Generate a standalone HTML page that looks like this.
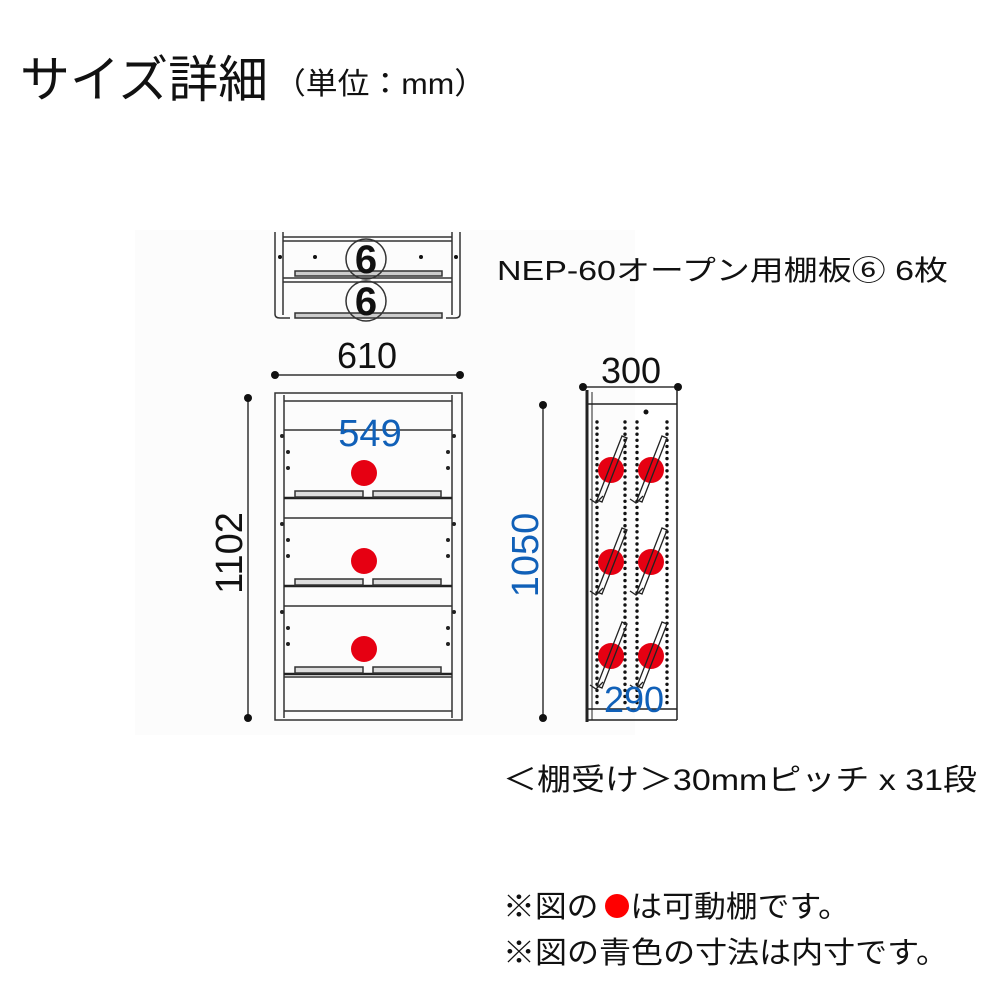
<!DOCTYPE html>
<html><head><meta charset="utf-8"><style>
html,body{margin:0;padding:0;background:#fff;}
svg{display:block;}
text{font-family:"Liberation Sans","Noto Sans CJK JP",sans-serif;}
</style></head><body>
<svg id="s" width="1000" height="1000" viewBox="0 0 1000 1000" xmlns="http://www.w3.org/2000/svg">
<rect x="135" y="230" width="500" height="505" fill="#fcfcfc"/>
<text x="20" y="97" font-size="50" fill="#111" textLength="248" lengthAdjust="spacingAndGlyphs">サイズ詳細</text>
<text x="274" y="94" font-size="30" fill="#111" textLength="212" lengthAdjust="spacingAndGlyphs">（単位：mm）</text>

<!-- top mini shelves -->
<g stroke="#333" fill="none" stroke-width="1.5">
<path d="M275 232 V314 Q275 318 280 318 H290"/><line x1="283" y1="232" x2="283" y2="315"/>
<path d="M460 232 V314 Q460 318 455 318 H446"/><line x1="452" y1="232" x2="452" y2="315"/>
<line x1="283" y1="237" x2="452" y2="237"/><line x1="283" y1="241" x2="452" y2="241"/>
<line x1="283" y1="278" x2="452" y2="278"/><line x1="283" y1="282" x2="452" y2="282"/>
<rect x="295" y="271" width="147" height="5" fill="#ccc"/>
<rect x="295" y="313" width="147" height="5" fill="#ccc"/>
<circle cx="366" cy="259" r="20"/><circle cx="366" cy="301" r="20"/>
</g>
<g fill="#111"><circle cx="315" cy="257" r="2"/><circle cx="421" cy="257" r="2"/>
<circle cx="280" cy="257" r="2"/><circle cx="456" cy="257" r="2"/></g>
<text x="366" y="273" font-size="40" font-weight="bold" text-anchor="middle" fill="#111">6</text>
<text x="366" y="315" font-size="40" font-weight="bold" text-anchor="middle" fill="#111">6</text>

<text x="497" y="280" font-size="28" fill="#111" textLength="451" lengthAdjust="spacingAndGlyphs">NEP-60オープン用棚板⑥ 6枚</text>

<!-- 610 -->
<text x="367" y="368" font-size="36" text-anchor="middle" fill="#111">610</text>
<line x1="275" y1="375" x2="460" y2="375" stroke="#333" stroke-width="1.5"/>
<circle cx="275" cy="375" r="4" fill="#111"/><circle cx="460" cy="375" r="4" fill="#111"/>

<!-- main cabinet -->
<g stroke="#333" fill="none" stroke-width="1.5">
<rect x="275" y="393" width="187" height="327"/>
<line x1="284" y1="395" x2="284" y2="718"/><line x1="452" y1="395" x2="452" y2="718"/>
<line x1="284" y1="401" x2="452" y2="401"/>
<line x1="284" y1="430" x2="452" y2="430"/>
<line x1="284" y1="518" x2="452" y2="518"/>
<line x1="284" y1="606" x2="452" y2="606"/>
<line x1="284" y1="711" x2="452" y2="711"/>
<line x1="284" y1="677" x2="452" y2="677"/>
</g>
<g stroke="#222" stroke-width="2.5">
<line x1="284" y1="498" x2="452" y2="498"/>
<line x1="284" y1="586" x2="452" y2="586"/>
<line x1="284" y1="674" x2="452" y2="674"/>
</g>
<g stroke="#333" stroke-width="1.5" fill="#ddd">
<rect x="295" y="491" width="68" height="6"/><rect x="373" y="491" width="68" height="6"/>
<rect x="295" y="579" width="68" height="6"/><rect x="373" y="579" width="68" height="6"/>
<rect x="295" y="667" width="68" height="6"/><rect x="373" y="667" width="68" height="6"/>
</g>
<g fill="#222">
<circle cx="282" cy="436" r="2"/><circle cx="288" cy="452" r="2"/><circle cx="288" cy="468" r="2"/>
<circle cx="454" cy="436" r="2"/><circle cx="448" cy="452" r="2"/><circle cx="448" cy="468" r="2"/>
<circle cx="282" cy="524" r="2"/><circle cx="288" cy="540" r="2"/><circle cx="288" cy="556" r="2"/>
<circle cx="454" cy="524" r="2"/><circle cx="448" cy="540" r="2"/><circle cx="448" cy="556" r="2"/>
<circle cx="282" cy="612" r="2"/><circle cx="288" cy="628" r="2"/><circle cx="288" cy="644" r="2"/>
<circle cx="454" cy="612" r="2"/><circle cx="448" cy="628" r="2"/><circle cx="448" cy="644" r="2"/>
</g>
<g fill="#e60012"><circle cx="364" cy="473" r="13"/><circle cx="364" cy="561" r="13"/><circle cx="364" cy="649" r="13"/></g>
<text x="370" y="446" font-size="38" text-anchor="middle" fill="#1060b8">549</text>

<!-- 1102 -->
<line x1="248" y1="398" x2="248" y2="718" stroke="#333" stroke-width="1.5"/>
<circle cx="248" cy="398" r="4" fill="#111"/><circle cx="248" cy="718" r="4" fill="#111"/>
<text transform="translate(242,553) rotate(-90)" font-size="38" text-anchor="middle" fill="#111">1102</text>

<!-- 1050 -->
<line x1="543" y1="405" x2="543" y2="718" stroke="#555" stroke-width="1.8"/>
<circle cx="543" cy="405" r="4" fill="#111"/><circle cx="543" cy="718" r="4" fill="#111"/>
<text transform="translate(538,555) rotate(-90)" font-size="38" text-anchor="middle" fill="#1060b8">1050</text>

<!-- side view -->
<text x="631" y="383" font-size="36" text-anchor="middle" fill="#111">300</text>
<line x1="583" y1="387" x2="678" y2="387" stroke="#333" stroke-width="1.5"/>
<circle cx="583" cy="387" r="4" fill="#111"/><circle cx="678" cy="387" r="4" fill="#111"/>
<g stroke="#222" fill="none">
<line x1="587" y1="390" x2="587" y2="722" stroke-width="3"/>
<line x1="677" y1="390" x2="677" y2="720" stroke-width="1.5"/>
<line x1="592" y1="392" x2="592" y2="720" stroke-width="1"/>
<line x1="587" y1="404" x2="677" y2="404" stroke-width="1.5"/>
<line x1="587" y1="709" x2="677" y2="709" stroke-width="1.5"/>
<line x1="587" y1="720" x2="677" y2="720" stroke-width="1.5"/>
</g>
<circle cx="646" cy="412" r="2.5" fill="#111"/>
<g id="dots" fill="#111"></g>
<g id="reds" fill="#e60012">
<circle cx="611" cy="470" r="13"/><circle cx="651" cy="470" r="13"/>
<circle cx="611" cy="562" r="13"/><circle cx="651" cy="562" r="13"/>
<circle cx="611" cy="656" r="13"/><circle cx="651" cy="656" r="13"/>
</g>
<g id="diag" stroke="#222" stroke-width="1.3" fill="none"></g>
<text x="634" y="712" font-size="36" text-anchor="middle" fill="#1060b8">290</text>

<text x="503" y="790" font-size="30" fill="#111" textLength="474" lengthAdjust="spacingAndGlyphs">＜棚受け＞30mmピッチ x 31段</text>
<text x="503" y="917" font-size="30" fill="#111" textLength="347" lengthAdjust="spacingAndGlyphs">※図の　は可動棚です。</text>
<circle cx="617" cy="906" r="12" fill="#f00"/>
<text x="503" y="963" font-size="30" fill="#111" textLength="445" lengthAdjust="spacingAndGlyphs">※図の青色の寸法は内寸です。</text>
</svg>
<script>
var ns="http://www.w3.org/2000/svg",d=document.getElementById("dots"),g=document.getElementById("diag");
[597,625,637,667].forEach(function(x){for(var y=422;y<=706;y+=6.1){var c=document.createElementNS(ns,"circle");c.setAttribute("cx",x);c.setAttribute("cy",y.toFixed(1));c.setAttribute("r","1.7");d.appendChild(c);}});
[[0,0],[40,0],[0,92],[40,92],[0,186],[40,186]].forEach(function(o){var dx=o[0],dy=o[1];
var p=document.createElementNS(ns,"polygon");
p.setAttribute("points",[(597+dx)+","+(500+dy),(622+dx)+","+(436+dy),(627+dx)+","+(438+dy),(602+dx)+","+(502+dy)].join(" "));
g.appendChild(p);
var l=document.createElementNS(ns,"polyline");l.setAttribute("points",(590+dx)+","+(499+dy)+" "+(596+dx)+","+(503+dy)+" "+(603+dx)+","+(496+dy));g.appendChild(l);});
</script>
</body></html>
